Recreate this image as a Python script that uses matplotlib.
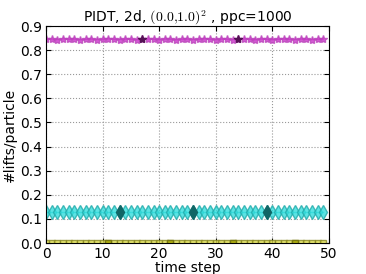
import numpy as np
import matplotlib
matplotlib.use('Agg')
import matplotlib.pyplot as plt

plt.rcParams['mathtext.fontset'] = 'cm'

steps = list(range(50))
# lifts per particle, three runs
star_vals = [0.845, 0.846, 0.844, 0.847, 0.845, 0.846, 0.843, 0.845, 0.846, 0.844,
             0.845, 0.847, 0.845, 0.844, 0.846, 0.845, 0.843, 0.845, 0.846, 0.845,
             0.844, 0.846, 0.845, 0.843, 0.845, 0.846, 0.844, 0.845, 0.847, 0.845,
             0.844, 0.846, 0.845, 0.844, 0.845, 0.846, 0.845, 0.843, 0.846, 0.845,
             0.844, 0.845, 0.846, 0.845, 0.844, 0.846, 0.845, 0.844, 0.845, 0.846]
diam_vals = [0.13] * 50
sq_vals = [0.002] * 50
star_dark = [17, 34]
diam_dark = [13, 26, 39]
sq_dark = [11, 22, 33, 44]

fig = plt.figure(figsize=(3.66, 2.74), dpi=100)
ax = fig.add_axes([0.1257, 0.113, 0.773, 0.792])

ax.plot(steps, star_vals, '-', marker='*', color='#cc33cc', mec='#bb44bb', ms=6, lw=1, alpha=0.8)
ax.plot([steps[i] for i in star_dark], [star_vals[i] for i in star_dark], '*',
        color='#551155', ms=6)
ax.plot(steps, diam_vals, '-', marker='d', color='#33dddd', mec='#22aaaa', ms=7, lw=1, alpha=0.8)
ax.plot([steps[i] for i in diam_dark], [diam_vals[i] for i in diam_dark], 'd',
        color='#116666', ms=7)
ax.plot(steps, sq_vals, '-', marker='s', color='#e0e050', mec='#888822', ms=5, lw=1, alpha=0.8)
ax.plot([steps[i] for i in sq_dark], [sq_vals[i] for i in sq_dark], 's',
        color='#b0b010', mec='#777711', ms=5)

ax.set_xlim(0, 50)
ax.set_ylim(0, 0.9)
ax.set_xticks(range(0, 51, 10))
ax.set_yticks(np.arange(0, 0.91, 0.1))
ax.set_yticklabels(['%.1f' % v for v in np.arange(0, 0.91, 0.1)])
ax.tick_params(direction='in', labelsize=10, top=True, right=True, pad=3)
ax.grid(True, linestyle=':', color='#999999')
ax.set_xlabel('time step', fontsize=10, labelpad=0)
ax.set_ylabel('#lifts/particle', fontsize=10, labelpad=2)
ax.set_title(r'PIDT, 2d, $(0.0{,}1.0)^2$ , ppc=1000', fontsize=10, pad=3)

plt.savefig('out.png', dpi=100)
